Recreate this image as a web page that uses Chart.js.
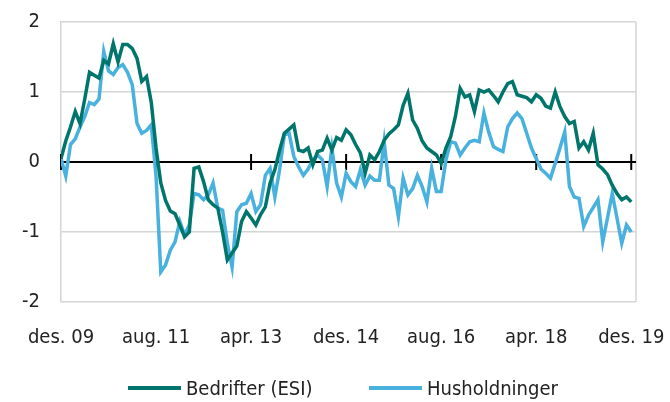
<!DOCTYPE html>
<html>
<head>
  <title>Bedrifter og husholdninger</title>
  <script src="https://cdn.jsdelivr.net/npm/chart.js"></script>
  <style>
    html, body { margin: 0; padding: 0; background: #fff; }
    #wrap { width: 670px; height: 402px; }
  </style>
</head>
<body>
  <div id="wrap"><canvas id="myChart" width="670" height="402"></canvas></div>

  <script>
    // months from des. 09 to des. 19
    var monthNames = ['jan.', 'feb.', 'mar.', 'apr.', 'mai', 'jun.', 'jul.', 'aug.', 'sep.', 'okt.', 'nov.', 'des.'];
    var months = [];
    for (var i = 0; i <= 120; i++) {
      var m = (11 + i) % 12;
      var y = 9 + Math.floor((11 + i) / 12);
      months.push(monthNames[m] + ' ' + (y < 10 ? '0' + y : y));
    }
    var monthIndex = months.map(function (m, i) { return i; });

    var xTickPositions = [0, 20, 40, 60, 80, 100, 120];
    var xTickLabels = ['des. 09', 'aug. 11', 'apr. 13', 'des. 14', 'aug. 16', 'apr. 18', 'des. 19'];
    var yTicks = [-2, -1, 0, 1, 2];

    var bedrifter = [
      0.05, 0.3, 0.5, 0.72, 0.55, 0.9, 1.28, 1.24, 1.2, 1.45,
      1.4, 1.69, 1.43, 1.68, 1.68, 1.62, 1.48, 1.15, 1.22, 0.85,
      0.2, -0.3, -0.55, -0.7, -0.74, -0.9, -1.07, -1.0, -0.09, -0.07,
      -0.28, -0.54, -0.61, -0.66, -1.0, -1.4, -1.3, -1.2, -0.85, -0.71,
      -0.8, -0.9, -0.75, -0.64, -0.3, -0.11, 0.17, 0.41, 0.47, 0.53,
      0.17, 0.15, 0.2, -0.04, 0.15, 0.17, 0.34, 0.17, 0.35, 0.31,
      0.46, 0.39, 0.25, 0.13, -0.16, 0.1, 0.03, 0.15, 0.31, 0.4,
      0.46, 0.53, 0.81, 0.98, 0.6, 0.48, 0.3, 0.2, 0.15, 0.1,
      -0.02, 0.2, 0.36, 0.65, 1.05, 0.93, 0.96, 0.72, 1.03, 1.0,
      1.03, 0.95, 0.86, 1.0, 1.12, 1.15, 0.96, 0.94, 0.92, 0.86,
      0.96, 0.91, 0.8, 0.77, 1.0, 0.79, 0.65, 0.55, 0.58, 0.2,
      0.29, 0.17, 0.41, -0.04, -0.1, -0.18, -0.33, -0.45, -0.54, -0.5,
      -0.57
    ];

    var husholdninger = [
      0.05, -0.2, 0.25, 0.33, 0.5, 0.65, 0.85, 0.82, 0.9, 1.58,
      1.3, 1.25, 1.35, 1.39, 1.28, 1.1, 0.55, 0.41, 0.45, 0.53,
      -0.2, -1.57, -1.47, -1.26, -1.14, -0.85, -1.04, -0.9, -0.45, -0.47,
      -0.54, -0.47, -0.3, -0.66, -0.69, -1.16, -1.5, -0.71, -0.61, -0.59,
      -0.45, -0.71, -0.61, -0.19, -0.09, -0.5, -0.11, 0.39, 0.41, 0.08,
      -0.07, -0.19, -0.1, 0.03, 0.1, 0.03, -0.35, 0.2, -0.3, -0.5,
      -0.16, -0.28, -0.35, -0.11, -0.33, -0.2, -0.26, -0.26, 0.29, -0.33,
      -0.38, -0.78, -0.23, -0.47, -0.38, -0.19, -0.35, -0.57, -0.09, -0.42,
      -0.42, 0.03, 0.29, 0.27, 0.1, 0.2, 0.29, 0.31, 0.29, 0.7,
      0.43, 0.22, 0.18, 0.15, 0.5, 0.62, 0.7, 0.62, 0.41, 0.2,
      0.05, -0.1, -0.16, -0.23, -0.02, 0.2, 0.43, -0.35, -0.5, -0.52,
      -0.92, -0.76, -0.65, -0.54, -1.14, -0.8, -0.45, -0.8, -1.16, -0.9,
      -1.0
    ];

    var seriesNames = ['Bedrifter (ESI)', 'Husholdninger'];
    var seriesColors = ['#00756c', '#48b1de'];

    var fontFamily = "'DejaVu Sans Condensed', 'Liberation Sans', sans-serif";
    var gridGray = '#d4d4d4';

    // zero line with tick marks, right frame line and the legend
    var extras = {
      id: 'extras',
      beforeDatasetsDraw: function (chart) {
        var ctx = chart.ctx;
        var area = chart.chartArea;
        var xs = chart.scales.x;
        var y0 = chart.scales.y.getPixelForValue(0);
        ctx.save();
        ctx.strokeStyle = gridGray;
        ctx.lineWidth = 1.5;
        ctx.beginPath();
        ctx.moveTo(area.right, area.top);
        ctx.lineTo(area.right, area.bottom);
        ctx.stroke();

        ctx.strokeStyle = '#000';
        ctx.lineWidth = 2;
        ctx.beginPath();
        ctx.moveTo(area.left, y0);
        ctx.lineTo(area.right, y0);
        for (var k = 0; k < xTickPositions.length; k++) {
          var px = xs.getPixelForValue(xTickPositions[k]);
          ctx.moveTo(px, y0 - 8);
          ctx.lineTo(px, y0 + 8);
        }
        ctx.stroke();
        ctx.restore();
      },
      afterDraw: function (chart) {
        var ctx = chart.ctx;
        var items = [{ x: 128, tx: 186 }, { x: 369, tx: 427 }];
        ctx.save();
        ctx.font = '20px ' + fontFamily;
        ctx.textBaseline = 'middle';
        ctx.fillStyle = '#222';
        for (var k = 0; k < items.length; k++) {
          ctx.strokeStyle = seriesColors[k];
          ctx.lineWidth = 4;
          ctx.beginPath();
          ctx.moveTo(items[k].x, 388);
          ctx.lineTo(items[k].x + 53, 388);
          ctx.stroke();
          ctx.fillText(seriesNames[k], items[k].tx, 390);
        }
        ctx.restore();
      }
    };

    var ctx = document.getElementById('myChart').getContext('2d');
    var chart = new Chart(ctx, {
      type: 'line',
      data: {
        labels: monthIndex,
        datasets: [{
          label: seriesNames[0],
          data: bedrifter,
          borderColor: seriesColors[0],
          borderWidth: 3.5,
          pointRadius: 0,
          tension: 0
        }, {
          label: seriesNames[1],
          data: husholdninger,
          borderColor: seriesColors[1],
          borderWidth: 3.5,
          pointRadius: 0,
          tension: 0
        }]
      },
      options: {
        responsive: false,
        animation: false,
        layout: { padding: { left: 0, right: 34, top: 22, bottom: 50 } },
        plugins: {
          legend: { display: false },
          tooltip: { enabled: false }
        },
        scales: {
          x: {
            type: 'linear',
            min: 0,
            max: 121,
            grid: { display: false, drawTicks: false },
            border: { display: false },
            afterBuildTicks: function (scale) {
              scale.ticks = xTickPositions.map(function (v) { return { value: v }; });
            },
            afterFit: function (scale) {
              scale.height = 50;
              scale.paddingLeft = 0;
              scale.paddingRight = 0;
            },
            ticks: {
              padding: 24,
              maxRotation: 0,
              autoSkip: false,
              color: '#222',
              font: { family: fontFamily, size: 20 },
              callback: function (value) {
                return xTickLabels[xTickPositions.indexOf(value)];
              }
            }
          },
          y: {
            min: -2,
            max: 2,
            afterBuildTicks: function (scale) {
              scale.ticks = yTicks.map(function (v) { return { value: v }; });
            },
            afterFit: function (scale) {
              scale.width = 61;
              scale.paddingTop = 0;
              scale.paddingBottom = 0;
            },
            grid: {
              drawTicks: false,
              lineWidth: 1.5,
              color: function (c) { return c.tick && c.tick.value === 0 ? 'rgba(0,0,0,0)' : gridGray; }
            },
            border: { display: true, color: gridGray, width: 1.5 },
            ticks: {
              padding: 21,
              color: '#222',
              font: { family: fontFamily, size: 20 }
            }
          }
        }
      },
      plugins: [extras]
    });
  </script>
</body>
</html>
